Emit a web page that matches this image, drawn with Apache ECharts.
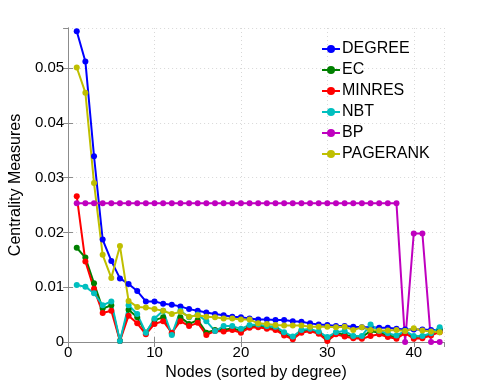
<!DOCTYPE html>
<html>
<head>
<meta charset="utf-8">
<script src="https://cdn.jsdelivr.net/npm/echarts@6/dist/echarts.min.js"></script>
<style>
html, body { margin: 0; padding: 0; background: #fff; }
#chart { width: 491px; height: 386px; }
</style>
</head>
<body>
<div id="chart"></div>
<script>
// node rank (sorted by degree)
var nodes = [1, 2, 3, 4, 5, 6, 7, 8, 9, 10, 11, 12, 13, 14, 15, 16, 17, 18, 19, 20, 21,
    22, 23, 24, 25, 26, 27, 28, 29, 30, 31, 32, 33, 34, 35, 36, 37, 38, 39, 40, 41, 42, 43];

var degree = [0.0567, 0.0512, 0.0339, 0.0187, 0.0148, 0.0116, 0.0106, 0.0093, 0.0074, 0.0074,
    0.0070, 0.0068, 0.0065, 0.0060, 0.0057, 0.0054, 0.0051, 0.0049, 0.0046, 0.0045,
    0.0043, 0.0041, 0.0041, 0.0040, 0.0040, 0.0038, 0.0037, 0.0034, 0.0032, 0.0031,
    0.0029, 0.0029, 0.0028, 0.0027, 0.0027, 0.0026, 0.0026, 0.0024, 0.0023, 0.0023,
    0.0023, 0.0022, 0.0022];
var ec = [0.0172, 0.0154, 0.0107, 0.0061, 0.0067, 0.0002, 0.0059, 0.0045, 0.0017, 0.0040,
    0.0045, 0.0015, 0.0045, 0.0033, 0.0040, 0.0017, 0.0022, 0.0022, 0.0025, 0.0020,
    0.0028, 0.0030, 0.0026, 0.0024, 0.0015, 0.0008, 0.0020, 0.0022, 0.0017, 0.0005,
    0.0017, 0.0013, 0.0010, 0.0009, 0.0020, 0.0017, 0.0012, 0.0009, 0.0020, 0.0009,
    0.0010, 0.0015, 0.0023];
var minres = [0.0266, 0.0147, 0.0097, 0.0053, 0.0057, 0.0002, 0.0048, 0.0034, 0.0014, 0.0033,
    0.0038, 0.0017, 0.0038, 0.0029, 0.0035, 0.0013, 0.0020, 0.0019, 0.0022, 0.0017,
    0.0026, 0.0027, 0.0024, 0.0022, 0.0012, 0.0005, 0.0017, 0.0020, 0.0015, 0.0002,
    0.0014, 0.0010, 0.0007, 0.0006, 0.0011, 0.0014, 0.0009, 0.0006, 0.0016, 0.0006,
    0.0007, 0.0012, 0.0018];
var nbt = [0.0104, 0.0101, 0.0089, 0.0067, 0.0074, 0.0002, 0.0067, 0.0051, 0.0017, 0.0043,
    0.0057, 0.0013, 0.0057, 0.0045, 0.0050, 0.0038, 0.0020, 0.0029, 0.0029, 0.0024,
    0.0031, 0.0032, 0.0029, 0.0028, 0.0018, 0.0010, 0.0022, 0.0024, 0.0019, 0.0009,
    0.0018, 0.0020, 0.0011, 0.0011, 0.0032, 0.0020, 0.0016, 0.0012, 0.0020, 0.0011,
    0.0011, 0.0016, 0.0027];
var bp = [0.0253, 0.0253, 0.0253, 0.0253, 0.0253, 0.0253, 0.0253, 0.0253, 0.0253, 0.0253,
    0.0253, 0.0253, 0.0253, 0.0253, 0.0253, 0.0253, 0.0253, 0.0253, 0.0253, 0.0253,
    0.0253, 0.0253, 0.0253, 0.0253, 0.0253, 0.0253, 0.0253, 0.0253, 0.0253, 0.0253,
    0.0253, 0.0253, 0.0253, 0.0253, 0.0253, 0.0253, 0.0253, 0.0253, 0, 0.0198,
    0.0198, 0, 0];
var pagerank = [0.0501, 0.0455, 0.0290, 0.0159, 0.0117, 0.0175, 0.0075, 0.0064, 0.0063, 0.0060,
    0.0057, 0.0051, 0.0055, 0.0046, 0.0049, 0.0046, 0.0045, 0.0043, 0.0043, 0.0041,
    0.0041, 0.0034, 0.0033, 0.0031, 0.0030, 0.0030, 0.0030, 0.0028, 0.0028, 0.0028,
    0.0027, 0.0028, 0.0022, 0.0027, 0.0022, 0.0021, 0.0021, 0.0022, 0.0020, 0.0025,
    0.0021, 0.0019, 0.0018];

var seriesNames = ["DEGREE", "EC", "MINRES", "NBT", "BP", "PAGERANK"];
var seriesColors = ["#0000ff", "#008000", "#ff0000", "#00bfbf", "#bf00bf", "#bfbf00"];
var seriesValues = [degree, ec, minres, nbt, bp, pagerank];

var xTicks = [0, 10, 20, 30, 40];
var yTicks = [0, 0.01, 0.02, 0.03, 0.04, 0.05];

var font = "Liberation Sans, Arial, sans-serif";
var frameColor = "#8c8c8c";

function pairs(values) {
    var out = [];
    for (var i = 0; i < nodes.length; i++) {
        out.push([nodes[i], values[i]]);
    }
    return out;
}

var chart = echarts.init(document.getElementById("chart"));

var series = [];
for (var s = 0; s < seriesNames.length; s++) {
    series.push({
        name: seriesNames[s],
        type: "line",
        data: pairs(seriesValues[s]),
        symbol: "circle",
        symbolSize: 6,
        color: seriesColors[s],
        lineStyle: { width: 2, color: seriesColors[s] },
        itemStyle: { color: seriesColors[s] },
        animation: false
    });
}

// tick labels only where the reference shows them
function xLabel(v) { return xTicks.indexOf(v) >= 0 ? String(v) : ""; }
function yLabel(v) {
    for (var i = 0; i < yTicks.length; i++) {
        if (Math.abs(yTicks[i] - v) < 1e-9) return yTicks[i] === 0 ? "0" : yTicks[i].toFixed(2);
    }
    return "";
}

var option = {
    backgroundColor: "#fff",
    animation: false,
    textStyle: { fontFamily: font },
    grid: { left: 65, right: 47, top: 28, bottom: 44, show: false },
    legend: {
        data: seriesNames,
        orient: "vertical",
        left: 321,
        top: 41,
        padding: 0,
        itemWidth: 18,
        itemHeight: 10,
        itemGap: 5,
        textStyle: { fontFamily: font, fontSize: 16, color: "#000", padding: [0, 0, 0, -3] }
    },
    xAxis: [{
        type: "value",
        min: 0, max: 43.5, interval: 10,
        name: "Nodes (sorted by degree)",
        nameLocation: "middle",
        nameGap: 15,
        nameTextStyle: { fontFamily: font, fontSize: 16, color: "#000" },
        axisLine: { show: true, lineStyle: { color: frameColor, width: 1 } },
        axisTick: { show: true, inside: true, length: 5, lineStyle: { color: frameColor } },
        axisLabel: { fontFamily: font, fontSize: 15, color: "#000", margin: 3, formatter: xLabel, showMaxLabel: false },
        splitLine: { show: true, lineStyle: { color: "#d8d8d8", type: [1, 3] } }
    }, {
        type: "value",
        position: "top",
        min: 0, max: 43.5, interval: 10,
        axisLine: { show: true, lineStyle: { color: frameColor, width: 1 } },
        axisTick: { show: true, inside: true, length: 5, lineStyle: { color: frameColor } },
        axisLabel: { show: false },
        splitLine: { show: false }
    }],
    yAxis: [{
        type: "value",
        min: 0, max: 0.0573, interval: 0.01,
        name: "Centrality Measures",
        nameLocation: "middle",
        nameGap: 35,
        nameTextStyle: { fontFamily: font, fontSize: 16, color: "#000", padding: [0, 0, 0, 0] },
        axisLine: { show: true, lineStyle: { color: frameColor, width: 1 } },
        axisTick: { show: true, inside: true, length: 5, lineStyle: { color: frameColor } },
        axisLabel: { fontFamily: font, fontSize: 15, color: "#000", margin: 4, formatter: yLabel, showMaxLabel: false },
        splitLine: { show: true, lineStyle: { color: "#d8d8d8", type: [1, 3] } }
    }, {
        type: "value",
        position: "right",
        min: 0, max: 0.0573, interval: 0.01,
        axisLine: { show: true, lineStyle: { color: frameColor, width: 1 } },
        axisTick: { show: true, inside: true, length: 5, lineStyle: { color: frameColor } },
        axisLabel: { show: false },
        splitLine: { show: false }
    }],
    series: series
};

chart.setOption(option);
</script>
</body>
</html>
